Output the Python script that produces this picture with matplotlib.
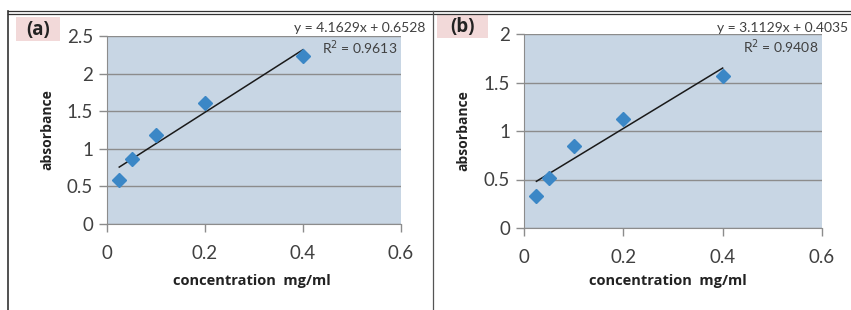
import matplotlib
matplotlib.use("Agg")
import matplotlib.pyplot as plt
from matplotlib.lines import Line2D
from matplotlib.patches import Rectangle

# data
conc = [0.025, 0.05, 0.1, 0.2, 0.4]
abs_a = [0.59, 0.86, 1.19, 1.61, 2.23]
abs_b = [0.33, 0.52, 0.85, 1.12, 1.57]
fit_a = (4.1629, 0.6528, 0.9613)
fit_b = (3.1129, 0.4035, 0.9408)
x_ticks = [0, 0.2, 0.4, 0.6]
y_ticks_a = [0, 0.5, 1, 1.5, 2, 2.5]
y_ticks_b = [0, 0.5, 1, 1.5, 2]

plt.rcParams['font.family'] = ['Lato', 'DejaVu Sans']
BOLD = ['Open Sans', 'DejaVu Sans']

W, H = 851, 310
fig = plt.figure(figsize=(W / 100, H / 100), dpi=100)


def fx(px):
    return px / W


def fy(py):
    return 1 - py / H


def panel(rect, y, fit, yticks, tag, tag_box, eq_pos, r2_pos, ylab_x, xlab_x):
    ax = fig.add_axes(rect)
    ax.set_facecolor('#c8d6e4')
    ax.set_xlim(0, 0.6)
    ax.set_ylim(0, yticks[-1])
    ax.set_xticks(x_ticks)
    ax.set_xticklabels([f"{t:g}" for t in x_ticks])
    ax.set_yticks(yticks)
    ax.set_yticklabels([f"{t:g}" for t in yticks])
    ax.yaxis.grid(True, color='#8c8c8c', lw=1)
    ax.set_axisbelow(True)
    for s in ['top', 'right']:
        ax.spines[s].set_visible(False)
    for s in ['left', 'bottom']:
        ax.spines[s].set_color('#8c8c8c')
    ax.tick_params(axis='both', colors='#8c8c8c', labelcolor='#404040',
                   labelsize=13.5, length=6, width=1)
    ax.tick_params(axis='x', pad=9)
    ax.tick_params(axis='y', pad=4)

    slope, icept, r2 = fit
    xs = [conc[0], conc[-1]]
    ax.plot(xs, [slope * v + icept for v in xs], color='#1a1a1a', lw=1.1, zorder=3)
    ax.plot(conc, y, 'D', color='#3b87c6', markersize=7, zorder=4, clip_on=False)

    fig.text(fx(eq_pos[0]), fy(eq_pos[1]), f"y = {slope:.4f}x + {icept:.4f}",
             ha='right', va='center', fontsize=10, color='#404040')
    fig.text(fx(r2_pos[0]), fy(r2_pos[1]), f"R$^2$ = {r2:.4f}",
             ha='right', va='center', fontsize=10, color='#404040')
    fig.text(fx(ylab_x), rect[1] + rect[3] / 2, "absorbance", rotation=90,
             ha='center', va='center', fontsize=10, fontweight='bold',
             color='#222222', family=BOLD)
    fig.text(fx(xlab_x), fy(281), "concentration  mg/ml",
             ha='center', va='center', fontsize=10.5, fontweight='bold',
             color='#222222', family=BOLD)

    x0, y0, x1, y1 = tag_box
    fig.add_artist(Rectangle((fx(x0), fy(y1)), fx(x1 - x0), (y1 - y0) / H,
                             transform=fig.transFigure, facecolor='#f2d9d9',
                             edgecolor='none', zorder=0))
    fig.text(fx((x0 + x1) / 2), fy((y0 + y1) / 2 + 1), tag, ha='center', va='center',
             fontsize=13.5, fontweight='bold', color='#222222', family=BOLD)
    return ax


panel([fx(107), fy(224), fx(401 - 107), (224 - 36) / H], abs_a, fit_a, y_ticks_a,
      "(a)", (16, 17, 60, 41), (425, 28), (397, 48), 47, 252)
panel([fx(524), fy(228), fx(822 - 524), (228 - 34) / H], abs_b, fit_b, y_ticks_b,
      "(b)", (437, 14, 488, 38), (848, 28), (818, 47), 463, 668)

# frame lines around the panels
for yy in [11, 13.5]:
    fig.add_artist(Line2D([fx(8), 1], [fy(yy), fy(yy)], color='#333333', lw=0.9))
fig.add_artist(Line2D([fx(8), fx(8)], [0, fy(11)], color='#333333', lw=1.2))
fig.add_artist(Line2D([fx(433), fx(433)], [0, fy(11)], color='#555555', lw=0.9))

plt.savefig("out.png", dpi=100)
